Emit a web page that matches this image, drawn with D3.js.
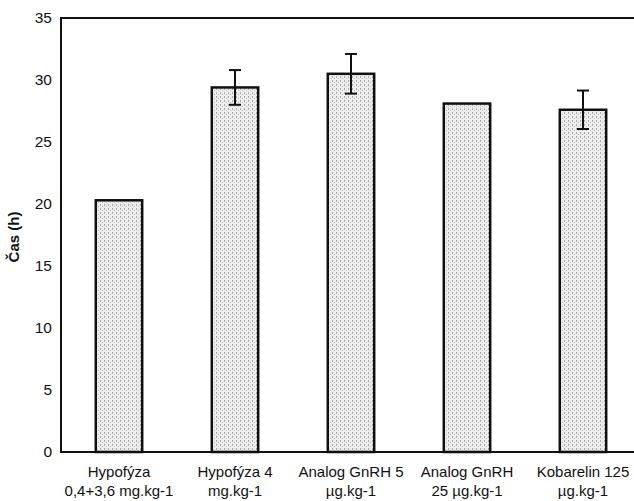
<!DOCTYPE html>
<html>
<head>
<meta charset="utf-8">
<script src="https://cdn.jsdelivr.net/npm/d3@7"></script>
<style>
  html, body { margin: 0; padding: 0; background: #fff; }
  svg { display: block; }
  text { font-family: "Liberation Sans", Arial, sans-serif; fill: #111; }
</style>
</head>
<body>
<svg id="chart" width="634" height="501"></svg>
<script>
// Treatment groups (two-line labels)
const categories = [
  ["Hypofýza", "0,4+3,6 mg.kg-1"],
  ["Hypofýza 4", "mg.kg-1"],
  ["Analog GnRH 5", "µg.kg-1"],
  ["Analog GnRH", "25 µg.kg-1"],
  ["Kobarelin 125", "µg.kg-1"]
];
// Mean time (h) and its error (h)
const values = [20.3, 29.4, 30.5, 28.1, 27.6];
const errors = [0, 1.4, 1.6, 0, 1.55];
const yTicks = [0, 5, 10, 15, 20, 25, 30, 35];
const yLabel = "Čas (h)";

const svg = d3.select("#chart");
const margin = { left: 61, top: 18, right: -7, bottom: 49 };
const W = 634, H = 501;
const x0 = margin.left, x1 = W - margin.right;
const yTop = margin.top, yBot = H - margin.bottom;

const x = d3.scaleBand()
  .domain(d3.range(categories.length))
  .range([x0, x1])
  .paddingInner(0.6)
  .paddingOuter(0.3);

const y = d3.scaleLinear().domain([0, 35]).range([yBot, yTop]);

// Stippled fill for the bars
const defs = svg.append("defs");
const pat = defs.append("pattern")
  .attr("id", "stipple")
  .attr("width", 4).attr("height", 4)
  .attr("patternUnits", "userSpaceOnUse");
pat.append("rect").attr("width", 4).attr("height", 4).attr("fill", "#eeeeee");
pat.append("rect").attr("x", 0).attr("y", 0).attr("width", 1).attr("height", 2).attr("fill", "#a8a8a8");
pat.append("rect").attr("x", 2).attr("y", 2).attr("width", 1).attr("height", 1).attr("fill", "#bbbbbb");

// Plot frame
svg.append("rect")
  .attr("x", x0).attr("y", yTop)
  .attr("width", x1 - x0).attr("height", yBot - yTop)
  .attr("fill", "none").attr("stroke", "#111").attr("stroke-width", 2);

// Y axis labels
const yAxis = d3.axisLeft(y).tickValues(yTicks).tickSize(0).tickPadding(9);
const gy = svg.append("g").attr("transform", `translate(${x0},0)`).call(yAxis);
gy.select(".domain").remove();
gy.selectAll("text").style("font-size", "15.5px").style("font-family", "'Liberation Sans', Arial, sans-serif").attr("fill", "#111");

// Y axis title
svg.append("text")
  .attr("transform", `translate(19,237) rotate(-90)`)
  .attr("text-anchor", "middle")
  .style("font-size", "15px")
  .style("font-weight", "bold")
  .text(yLabel);

// Bars
svg.selectAll("rect.bar")
  .data(values)
  .join("rect")
  .attr("class", "bar")
  .attr("x", (d, i) => x(i))
  .attr("y", d => y(d))
  .attr("width", x.bandwidth())
  .attr("height", d => y(0) - y(d))
  .attr("fill", "url(#stipple)")
  .attr("stroke", "#111")
  .attr("stroke-width", 2.5);

// Error bars
const eb = svg.selectAll("g.err")
  .data(values.map((v, i) => ({ v, e: errors[i], i })).filter(d => d.e > 0))
  .join("g").attr("class", "err");
const cx = d => x(d.i) + x.bandwidth() / 2;
eb.append("line")
  .attr("x1", cx).attr("x2", cx)
  .attr("y1", d => y(d.v + d.e)).attr("y2", d => y(d.v - d.e))
  .attr("stroke", "#111").attr("stroke-width", 2);
eb.selectAll("line.cap")
  .data(d => [d.v + d.e, d.v - d.e].map(t => ({ t, c: cx(d) })))
  .join("line").attr("class", "cap")
  .attr("x1", d => d.c - 6).attr("x2", d => d.c + 6)
  .attr("y1", d => y(d.t)).attr("y2", d => y(d.t))
  .attr("stroke", "#111").attr("stroke-width", 2);

// Category labels
const xl = svg.selectAll("text.cat")
  .data(categories)
  .join("text")
  .attr("class", "cat")
  .attr("text-anchor", "middle")
  .attr("x", (d, i) => x(i) + x.bandwidth() / 2)
  .attr("y", yBot + 25)
  .style("font-size", "15px");
xl.selectAll("tspan")
  .data(d => d)
  .join("tspan")
  .attr("x", function () { return this.parentNode.getAttribute("x"); })
  .attr("dy", (d, j) => j === 0 ? 0 : 19)
  .text(d => d);
</script>
</body>
</html>
